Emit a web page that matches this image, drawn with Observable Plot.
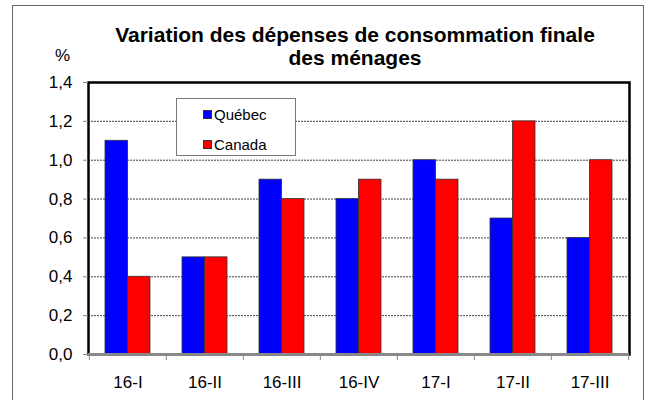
<!DOCTYPE html>
<html><head><meta charset="utf-8">
<script src="https://cdn.jsdelivr.net/npm/d3@7"></script>
<script src="https://cdn.jsdelivr.net/npm/@observablehq/plot@0.6"></script>
<style>
body{margin:0;background:#fff;font-family:"Liberation Sans",Arial,sans-serif;}
#wrap{position:relative;width:649px;height:400px;overflow:hidden;}
#border{position:absolute;left:12px;top:5px;width:632px;height:420px;border:1px solid #666;box-sizing:border-box;pointer-events:none;}
#head{position:relative;height:68px;}
#title{position:absolute;left:55px;top:23px;width:600px;text-align:center;font-weight:bold;font-size:21px;line-height:23px;color:#000;}
#pct{position:absolute;left:50px;top:48px;width:25px;text-align:center;font-size:17px;line-height:16px;}
#legend{position:absolute;left:176px;top:98px;width:120px;height:58px;border:1px solid #777;box-sizing:border-box;background:#fff;}
.item{position:absolute;left:26px;font-size:15px;line-height:15px;height:15px;}
.sw{display:inline-block;width:7px;height:7px;border:1px solid #333;margin-right:2px;vertical-align:1px;}
</style>
</head><body>
<div id="wrap">
  <div id="head">
    <div id="title">Variation des dépenses de consommation finale<br>des ménages</div>
    <div id="pct">%</div>
  </div>
  <div id="chart"></div>
  <div id="legend"></div>
  <div id="border"></div>
</div>
<script>
const categories = ["16-I", "16-II", "16-III", "16-IV", "17-I", "17-II", "17-III"];
const quebec = [1.1, 0.5, 0.9, 0.8, 1.0, 0.7, 0.6];
const canada = [0.4, 0.5, 0.8, 0.9, 0.9, 1.2, 1.0];
const seriesNames = ["Québec", "Canada"];
const seriesColors = ["#0000ff", "#ff0000"];
const yTicks = [0, 0.2, 0.4, 0.6, 0.8, 1.0, 1.2, 1.4];
const gridTicks = [0.2, 0.4, 0.6, 0.8, 1.0, 1.2];

const W = 649, H = 332, mL = 88, mR = 20, mT = 14, mB = 46;
const padInner = 0.42;
const step = (W - mL - mR) / categories.length;
const half = step * (1 - padInner) / 2;

const qData = categories.map((c, i) => ({cat: c, value: quebec[i]}));
const cData = categories.map((c, i) => ({cat: c, value: canada[i]}));
const fmt = d => d.toFixed(1).replace(".", ",");

const chart = Plot.plot({
  width: W, height: H,
  marginLeft: mL, marginRight: mR, marginTop: mT, marginBottom: mB,
  style: {fontFamily: "Liberation Sans, Arial, sans-serif", fontSize: "17px", background: "transparent", color: "#000"},
  x: {domain: categories, paddingInner: padInner, paddingOuter: padInner / 2, axis: null, label: null},
  y: {domain: [0, 1.4], axis: null, label: null},
  marks: [
    Plot.ruleY(gridTicks, {stroke: "#444", strokeDasharray: "2,1", strokeWidth: 1}),
    Plot.barY(qData, {x: "cat", y: "value", fill: seriesColors[0], stroke: "#333", strokeWidth: 0.8, insetRight: half}),
    Plot.barY(cData, {x: "cat", y: "value", fill: seriesColors[1], stroke: "#333", strokeWidth: 0.8, insetLeft: half}),
    Plot.frame({stroke: "#000", strokeWidth: 2.5}),
    Plot.ruleY([0], {stroke: "#888", strokeWidth: 3}),
    Plot.axisY({ticks: yTicks, tickFormat: fmt, tickSize: 5, tickPadding: 11, stroke: "#888", fontSize: 17, label: null}),
    Plot.axisX({tickSize: 0, tickPadding: 21, fontSize: 17, label: null}),
    Plot.axisX({tickSize: 6, tickFormat: () => "", dx: -step / 2, stroke: "#888", label: null}),
    Plot.axisX({ticks: [categories[categories.length - 1]], tickSize: 6, tickFormat: () => "", dx: step / 2, stroke: "#888", label: null})
  ]
});
document.getElementById("chart").appendChild(chart);

const legend = document.getElementById("legend");
seriesNames.forEach((name, i) => {
  const it = document.createElement("div");
  it.className = "item";
  it.style.top = (i === 0 ? 8 : 38) + "px";
  it.innerHTML = `<span class="sw" style="background:${seriesColors[i]}"></span>${name}`;
  legend.appendChild(it);
});
</script>
</body></html>
